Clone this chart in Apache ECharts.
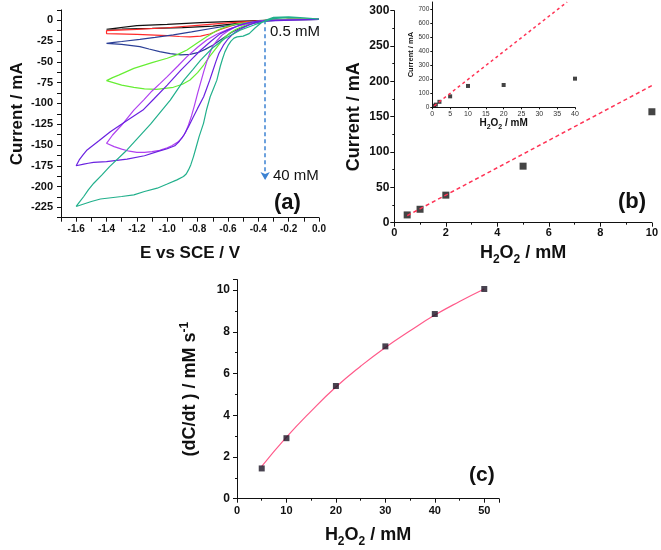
<!DOCTYPE html>
<html>
<head>
<meta charset="utf-8">
<script src="https://cdn.jsdelivr.net/npm/echarts@6/dist/echarts.min.js"></script>
<style>html,body{margin:0;padding:0;background:#fff}#c{width:661px;height:550px}</style>
</head>
<body>
<div id="c"></div>
<script>
// ---------- Panel (a): cyclic voltammograms [E (V), I (mA)] ----------
const cv05 = [[0,1],[-0.2,1],[-0.35,0],[-0.5,-3],[-0.7,-7],[-0.9,-8.8],[-1.1,-9.8],[-1.3,-10.5],[-1.4,-10.8],
  [-1.4,-8.4],[-1.2,-6.5],[-1.0,-4.8],[-0.78,-2.9],[-0.6,-1.6],[-0.4,-0.3],[-0.2,1],[0,1]];
const cv1 = [[0,1],[-0.2,1],[-0.35,0],[-0.45,-2],[-0.55,-5],[-0.65,-11],[-0.72,-16.5],[-0.78,-19],[-0.85,-20],[-0.92,-19.5],[-1.0,-18.5],[-1.2,-17],[-1.4,-16],
  [-1.4,-12.5],[-1.2,-11],[-1.0,-9],[-0.78,-5.7],[-0.6,-3],[-0.4,-0.8],[-0.2,1],[0,1]];
const cv2 = [[0,1],[-0.3,0.5],[-0.39,-2],[-0.45,-4.5],[-0.52,-9.6],[-0.58,-15],[-0.65,-23.7],[-0.70,-30],[-0.75,-35],[-0.80,-39],[-0.85,-41],[-0.91,-41.7],[-0.98,-40],[-1.05,-37.7],[-1.12,-34.5],[-1.18,-31.7],[-1.3,-29],[-1.4,-27.7],
  [-1.35,-26.5],[-1.3,-25.5],[-1.18,-22.9],[-1.08,-20.5],[-0.96,-17.6],[-0.84,-14],[-0.70,-9.6],[-0.6,-6.5],[-0.5,-4],[-0.35,-1],[-0.2,1],[0,1]];
const cv5 = [[0,1.5],[-0.3,1],[-0.36,0],[-0.41,-1.6],[-0.46,-4],[-0.50,-6.8],[-0.55,-11],[-0.59,-15.6],[-0.63,-22.5],[-0.67,-31.7],[-0.72,-43.5],[-0.76,-53.8],[-0.80,-63],[-0.85,-71.8],[-0.90,-77],[-0.96,-80.6],[-1.07,-83],[-1.15,-82.5],[-1.22,-80.6],[-1.3,-78],[-1.4,-72.6],
  [-1.36,-69],[-1.32,-66],[-1.22,-57.8],[-1.1,-51],[-1.0,-45.7],[-0.93,-41],[-0.87,-35.7],[-0.80,-27],[-0.74,-19.7],[-0.67,-12],[-0.61,-7.6],[-0.55,-4.8],[-0.48,-2.8],[-0.35,0],[0,1]];
const cv10 = [[0,1],[-0.35,0],[-0.43,-2],[-0.48,-3.8],[-0.52,-6],[-0.56,-9],[-0.60,-13],[-0.64,-18],[-0.67,-24],[-0.70,-31],[-0.72,-40],[-0.74,-50],[-0.76,-62],[-0.78,-75],[-0.80,-88],[-0.82,-102],[-0.84,-115],[-0.86,-126],[-0.88,-135],[-0.90,-141],[-0.93,-146.5],[-0.97,-151],[-1.0,-153.5],[-1.05,-156.5],[-1.1,-158],[-1.15,-159],[-1.2,-159],[-1.25,-157.5],[-1.3,-155],[-1.35,-152],[-1.4,-148],
  [-1.36,-138],[-1.3,-126],[-1.22,-108],[-1.156,-96],[-1.1,-85],[-1.05,-76.5],[-1.0,-67.8],[-0.93,-55],[-0.87,-43.7],[-0.80,-32.5],[-0.74,-23.7],[-0.67,-16.5],[-0.61,-11.6],[-0.54,-7.5],[-0.48,-4.4],[-0.41,-1.8],[-0.35,0],[0,1]];
const cv20 = [[0,1],[-0.35,0],[-0.42,-3],[-0.46,-5.5],[-0.5,-9],[-0.54,-13],[-0.57,-17],[-0.60,-22.5],[-0.63,-30],[-0.66,-40],[-0.68,-50],[-0.70,-61],[-0.72,-72],[-0.74,-82],[-0.76,-92],[-0.80,-106],[-0.83,-117],[-0.86,-128],[-0.89,-138],[-0.92,-145.5],[-0.95,-151],[-1.0,-154.5],[-1.066,-158],[-1.15,-163],[-1.265,-167],[-1.4,-170],[-1.486,-171],[-1.52,-172],[-1.53,-170],[-1.55,-173],[-1.6,-175],
  [-1.58,-168],[-1.555,-162],[-1.528,-156],[-1.45,-145],[-1.375,-134],[-1.26,-120],[-1.16,-108],[-1.09,-95],[-1.0,-78],[-0.91,-60],[-0.84,-47],[-0.78,-36],[-0.71,-25],[-0.65,-16],[-0.58,-10],[-0.52,-5.6],[-0.46,-2.8],[-0.4,-1],[0,1]];
const cv40 = [[0,1.5],[-0.1,3],[-0.2,4],[-0.3,3.5],[-0.34,1],[-0.38,-3],[-0.42,-9],[-0.46,-16],[-0.50,-19],[-0.54,-20],[-0.56,-21.5],[-0.58,-25],[-0.60,-30.5],[-0.62,-38],[-0.635,-46],[-0.65,-55],[-0.673,-72],[-0.695,-82],[-0.717,-92],[-0.74,-107],[-0.761,-124],[-0.79,-140],[-0.81,-153],[-0.827,-164],[-0.845,-174],[-0.86,-180],[-0.875,-185],[-0.893,-188],[-0.936,-192],[-1.0,-197],[-1.066,-202],[-1.15,-206],[-1.22,-210],[-1.3,-212],[-1.44,-215],[-1.5,-218],[-1.55,-221],[-1.6,-224],
  [-1.58,-219],[-1.55,-212],[-1.52,-204],[-1.484,-196],[-1.43,-186],[-1.38,-176],[-1.265,-156],[-1.11,-125],[-0.98,-96],[-0.89,-72],[-0.83,-59],[-0.78,-48],[-0.70,-33],[-0.62,-22],[-0.52,-12],[-0.42,-5],[-0.35,-1],[-0.3,2],[-0.2,3.5],[-0.1,3],[0,1.5]];
const cvNames = ['0.5 mM','1 mM','2 mM','5 mM','10 mM','20 mM','40 mM'];
const cvColors = ['#111111','#ff2a2a','#2b3f96','#66ee33','#b040f0','#6a22e0','#22b08c'];
const cvData = [cv05, cv1, cv2, cv5, cv10, cv20, cv40];
const arrowA = {E: -0.355, from: 0, to: -192};

// ---------- Panel (b) and inset ----------
const bConc = [0.5, 1, 2, 5, 10];
const bCurrent = [11, 19, 39, 80, 157];
const bFit = [[0.5, 10], [10, 194]];
const insetConc = [0.5, 1, 2, 5, 10, 20, 40];
const insetCurrent = [11, 19, 39, 78, 152, 159, 204];
const insetFit = [[0.5, 10], [37.8, 750]];

// ---------- Panel (c) ----------
const cConc = [5, 10, 20, 30, 40, 50];
const cRate = [1.45, 2.9, 5.4, 7.3, 8.85, 10.05];
const cFitX = [5, 10, 15, 20, 25, 30, 35, 40, 45, 50];
const cFitY = [1.55, 2.95, 4.2, 5.35, 6.35, 7.25, 8.05, 8.8, 9.45, 10.05];

const FF = 'Liberation Sans, Arial, Helvetica, sans-serif';
const AX = '#111';

function zip(a, b) { return a.map((v, i) => [v, b[i]]); }

function axis(o) {
  return Object.assign({
    type: 'value',
    axisLine: {show: true, onZero: false, lineStyle: {color: AX, width: 1}},
    axisTick: {show: true, length: 4, lineStyle: {color: AX}},
    splitLine: {show: false},
    nameLocation: 'middle'
  }, o);
}
const sub = {
  b: {fontSize: 18, fontWeight: 'bold', fontFamily: FF, color: AX, verticalAlign: 'top', lineHeight: 22},
  s: {fontSize: 12, fontWeight: 'bold', fontFamily: FF, color: AX, verticalAlign: 'bottom', lineHeight: 22}
};
const subSmall = {
  b: {fontSize: 10, fontWeight: 'bold', fontFamily: FF, color: AX, verticalAlign: 'top', lineHeight: 12},
  s: {fontSize: 7, fontWeight: 'bold', fontFamily: FF, color: AX, verticalAlign: 'bottom', lineHeight: 12}
};

const series = [];
cvData.forEach((d, i) => {
  const s = {
    name: cvNames[i], type: 'line', xAxisIndex: 0, yAxisIndex: 0,
    data: d, showSymbol: false, symbol: 'none', smooth: false,
    lineStyle: {color: cvColors[i], width: 1.2}, clip: true, z: 2 + i
  };
  if (i === 0) {
    s.markLine = {
      silent: true, symbol: ['none', 'arrow'], symbolSize: [7, 8],
      lineStyle: {color: '#3c82d2', type: [4, 3], width: 1.5},
      label: {show: false},
      data: [[{coord: [arrowA.E, arrowA.from]}, {coord: [arrowA.E, arrowA.to]}]]
    };
  }
  series.push(s);
});
series.push({type: 'line', xAxisIndex: 1, yAxisIndex: 1, data: bFit, showSymbol: false, symbol: 'none',
  lineStyle: {color: '#ff3355', width: 1.5, type: [4, 3]}, z: 3});
series.push({type: 'scatter', xAxisIndex: 1, yAxisIndex: 1, data: zip(bConc, bCurrent), symbol: 'rect', symbolSize: 7,
  itemStyle: {color: '#151515'}, z: 2});
series.push({type: 'line', xAxisIndex: 2, yAxisIndex: 2, data: insetFit, showSymbol: false, symbol: 'none',
  lineStyle: {color: '#ff3355', width: 1.5, type: [3, 3]}, clip: true, z: 3});
series.push({type: 'scatter', xAxisIndex: 2, yAxisIndex: 2, data: zip(insetConc, insetCurrent), symbol: 'rect', symbolSize: 4,
  itemStyle: {color: '#151515'}, z: 2});
series.push({type: 'line', xAxisIndex: 3, yAxisIndex: 3, data: zip(cFitX, cFitY), showSymbol: false, symbol: 'none', smooth: true,
  lineStyle: {color: '#ff5a8a', width: 1.2}, z: 2});
series.push({type: 'scatter', xAxisIndex: 3, yAxisIndex: 3, data: zip(cConc, cRate), symbol: 'rect', symbolSize: 6,
  itemStyle: {color: '#1a1424'}, z: 3});

const option = {
  animation: false,
  backgroundColor: '#fff',
  grid: [
    {left: 61, width: 258, top: 9.9, height: 207.8},
    {left: 394.3, width: 258.7, top: 10.7, height: 212},
    {left: 432.3, width: 142.7, top: 2, height: 105.3},
    {left: 237, width: 262.1, top: 279.6, height: 219.1}
  ],
  xAxis: [
    axis({gridIndex: 0, min: -1.7, max: 0, interval: 0.1,
      axisLabel: {fontSize: 10, fontWeight: 'bold', fontFamily: FF, color: AX, margin: 7,
        formatter: v => (Math.round(v * 10) % 2 === 0 ? v.toFixed(1) : '')},
      name: 'E vs SCE / V', nameGap: 27,
      nameTextStyle: {fontSize: 17, fontWeight: 'bold', fontFamily: FF, color: AX}}),
    axis({gridIndex: 1, min: 0, max: 10, interval: 2,
      minorTick: {show: true, splitNumber: 2, length: 2, lineStyle: {color: AX}},
      axisLabel: {fontSize: 11, fontWeight: 'bold', fontFamily: FF, color: AX, margin: 5},
      name: '{b|H}{s|2}{b|O}{s|2}{b| / mM}', nameGap: 21, nameTextStyle: {rich: sub}}),
    axis({gridIndex: 2, min: 0, max: 40, interval: 5,
      axisTick: {show: true, length: 2, lineStyle: {color: AX}},
      axisLabel: {fontSize: 7, fontFamily: FF, color: '#333', margin: 3},
      name: '{b|H}{s|2}{b|O}{s|2}{b| / mM}', nameGap: 9, nameTextStyle: {rich: subSmall}}),
    axis({gridIndex: 3, min: 0, max: 53, interval: 10,
      minorTick: {show: true, splitNumber: 2, length: 2, lineStyle: {color: AX}},
      axisLabel: {fontSize: 11, fontWeight: 'bold', fontFamily: FF, color: AX, margin: 7, showMaxLabel: false,
        formatter: v => (v % 10 === 0 ? String(v) : '')},
      name: '{b|H}{s|2}{b|O}{s|2}{b| / mM}', nameGap: 27, nameTextStyle: {rich: sub}})
  ],
  yAxis: [
    axis({gridIndex: 0, min: -237.5, max: 12.5, interval: 12.5,
      axisLabel: {fontSize: 11, fontWeight: 'bold', fontFamily: FF, color: AX, margin: 8,
        formatter: v => (v % 25 === 0 ? String(v) : '')},
      name: 'Current / mA', nameGap: 35,
      nameTextStyle: {fontSize: 17, fontWeight: 'bold', fontFamily: FF, color: AX}}),
    axis({gridIndex: 1, min: 0, max: 300, interval: 50,
      minorTick: {show: true, splitNumber: 2, length: 2, lineStyle: {color: AX}},
      axisLabel: {fontSize: 12, fontWeight: 'bold', fontFamily: FF, color: AX, margin: 5},
      name: 'Current / mA', nameGap: 31,
      nameTextStyle: {fontSize: 18, fontWeight: 'bold', fontFamily: FF, color: AX}}),
    axis({gridIndex: 2, min: 0, max: 750, interval: 100,
      axisTick: {show: true, length: 2, lineStyle: {color: AX}},
      axisLabel: {fontSize: 6.5, fontFamily: FF, color: '#333', margin: 3, showMaxLabel: false,
        formatter: v => (v % 100 === 0 ? String(v) : '')},
      name: 'Current / mA', nameGap: 15,
      nameTextStyle: {fontSize: 7.5, fontWeight: 'bold', fontFamily: FF, color: AX}}),
    axis({gridIndex: 3, min: 0, max: 10.5, interval: 2,
      minorTick: {show: true, splitNumber: 2, length: 2, lineStyle: {color: AX}},
      axisLabel: {fontSize: 12, fontWeight: 'bold', fontFamily: FF, color: AX, margin: 7, showMaxLabel: false,
        formatter: v => (v % 2 === 0 ? String(v) : '')},
      name: '{b|(dC/dt ) / mM s}{p|-1}', nameGap: 38,
      nameTextStyle: {rich: {
        b: {fontSize: 18, fontWeight: 'bold', fontFamily: FF, color: AX, verticalAlign: 'bottom', lineHeight: 20},
        p: {fontSize: 12, fontWeight: 'bold', fontFamily: FF, color: AX, verticalAlign: 'top', lineHeight: 20}
      }}})
  ],
  graphic: [
    {type: 'text', x: 270, y: 32, style: {text: '0.5 mM', fontSize: 15, fontFamily: FF, fill: '#111', verticalAlign: 'middle'}},
    {type: 'text', x: 273, y: 176, style: {text: '40 mM', fontSize: 15, fontFamily: FF, fill: '#111', verticalAlign: 'middle'}},
    {type: 'text', x: 274, y: 203, style: {text: '(a)', fontSize: 22, fontWeight: 'bold', fontFamily: FF, fill: '#111', verticalAlign: 'middle'}},
    {type: 'text', x: 618, y: 202, style: {text: '(b)', fontSize: 22, fontWeight: 'bold', fontFamily: FF, fill: '#111', verticalAlign: 'middle'}},
    {type: 'text', x: 469, y: 475, style: {text: '(c)', fontSize: 21, fontWeight: 'bold', fontFamily: FF, fill: '#111', verticalAlign: 'middle'}}
  ],
  series: series
};

const chart = echarts.init(document.getElementById('c'), null, {renderer: 'canvas'});
chart.setOption(option);
</script>
</body>
</html>
